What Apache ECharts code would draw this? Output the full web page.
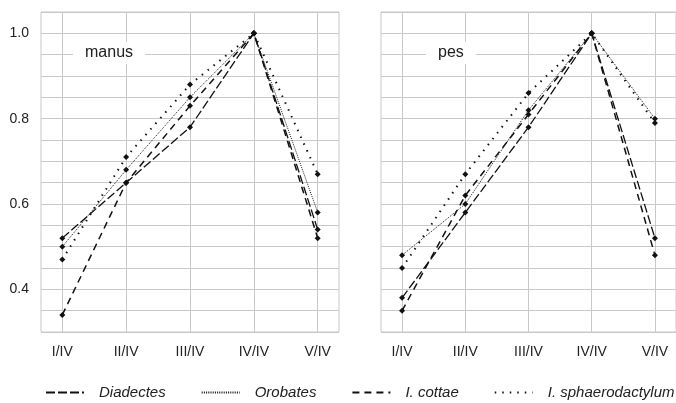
<!DOCTYPE html>
<html>
<head>
<meta charset="utf-8">
<script src="https://cdn.jsdelivr.net/npm/echarts@6/dist/echarts.min.js"></script>
<style>
  html, body { margin: 0; padding: 0; background: #fff; }
  #main { width: 676px; height: 403px; }
</style>
</head>
<body>
<div id="main"></div>
<script>
// ratio categories
const categories = ['I/IV', 'II/IV', 'III/IV', 'IV/IV', 'V/IV'];

// manus
const diadectesManus = [0.52, 0.65, 0.78, 1.0, 0.54];
const orobatesManus = [0.50, 0.68, 0.85, 1.0, 0.58];
const cottaeManus = [0.34, 0.65, 0.83, 1.0, 0.52];
const sphaeroManus = [0.47, 0.71, 0.88, 1.0, 0.67];

// pes
const diadectesPes = [0.38, 0.58, 0.78, 1.0, 0.52];
const orobatesPes = [0.48, 0.60, 0.82, 1.0, 0.80];
const cottaePes = [0.35, 0.62, 0.81, 1.0, 0.48];
const sphaeroPes = [0.45, 0.67, 0.86, 1.0, 0.79];

const yTickLabels = [0.4, 0.6, 0.8, 1.0];

// each category sits on every third slot so the box has a 1/3 step margin
const slots = [];
for (let i = 0; i < categories.length * 3; i++) {
    slots.push((i - 1) % 3 === 0 ? categories[(i - 1) / 3] : '_' + i);
}
const slotOf = (i) => 1 + 3 * i;

const font = "'Liberation Sans', Arial, sans-serif";
const gridColor = '#c8c8c8';

const styles = {
    'Diadectes': { type: [9, 3], width: 1.3 },
    'Orobates': { type: [1, 1.2], width: 1 },
    'I. cottae': { type: [7, 5], width: 1.5 },
    'I. sphaerodactylum': { type: [1.5, 6], width: 2 }
};

function makeSeries(name, values, idx) {
    return {
        name: name,
        type: 'line',
        xAxisIndex: idx,
        yAxisIndex: idx,
        data: values.map((v, i) => [slotOf(i), v]),
        symbol: 'diamond',
        symbolSize: 6,
        itemStyle: { color: '#111' },
        lineStyle: { color: '#111', type: styles[name].type, width: styles[name].width },
        silent: true,
        animation: false
    };
}

function xAxis(idx) {
    return {
        type: 'category',
        gridIndex: idx,
        data: slots,
        boundaryGap: false,
        axisLine: { show: false },
        axisTick: { show: false },
        axisLabel: {
            interval: (i) => (i - 1) % 3 === 0,
            margin: 13,
            fontSize: 14,
            fontFamily: font,
            color: '#222'
        },
        splitLine: {
            show: true,
            interval: (i) => (i - 1) % 3 === 0,
            lineStyle: { color: gridColor, width: 1 }
        }
    };
}

function yAxis(idx, showLabels) {
    return {
        type: 'value',
        gridIndex: idx,
        min: 0.3,
        max: 1.05,
        interval: 0.05,
        axisLine: { show: false },
        axisTick: { show: false },
        axisLabel: {
            show: showLabels,
            margin: 12,
            fontSize: 14,
            fontFamily: font,
            color: '#222',
            formatter: (v) => yTickLabels.some((t) => Math.abs(t - v) < 1e-6) ? v.toFixed(1) : ''
        },
        splitLine: { show: true, lineStyle: { color: gridColor, width: 1 } }
    };
}

const myChart = echarts.init(document.getElementById('main'));

const options = {
    backgroundColor: '#fff',
    animation: false,
    title: [
        {
            text: 'manus', left: 73, top: 42,
            backgroundColor: '#fff', padding: [3, 12],
            textStyle: { fontSize: 16, fontWeight: 'normal', fontFamily: font, color: '#222', lineHeight: 16 }
        },
        {
            text: 'pes', left: 426, top: 42,
            backgroundColor: '#fff', padding: [3, 12],
            textStyle: { fontSize: 16, fontWeight: 'normal', fontFamily: font, color: '#222', lineHeight: 16 }
        }
    ],
    legend: {
        left: 40,
        top: 380,
        width: 700,
        itemWidth: 38,
        itemHeight: 14,
        itemGap: 35,
        itemStyle: { opacity: 0 },
        textStyle: { fontSize: 15, fontStyle: 'italic', fontFamily: font, color: '#222', padding: [0, 0, 0, 10] },
        data: ['Diadectes', 'Orobates', 'I. cottae', 'I. sphaerodactylum']
    },
    grid: [
        { left: 41, top: 12, width: 298, height: 320, show: true, borderColor: gridColor, borderWidth: 1 },
        { left: 381, top: 12, width: 298, height: 320, show: true, borderColor: gridColor, borderWidth: 1 }
    ],
    xAxis: [xAxis(0), xAxis(1)],
    yAxis: [yAxis(0, true), yAxis(1, false)],
    series: [
        makeSeries('Diadectes', diadectesManus, 0),
        makeSeries('Orobates', orobatesManus, 0),
        makeSeries('I. cottae', cottaeManus, 0),
        makeSeries('I. sphaerodactylum', sphaeroManus, 0),
        makeSeries('Diadectes', diadectesPes, 1),
        makeSeries('Orobates', orobatesPes, 1),
        makeSeries('I. cottae', cottaePes, 1),
        makeSeries('I. sphaerodactylum', sphaeroPes, 1)
    ]
};
myChart.setOption(options);
</script>
</body>
</html>
